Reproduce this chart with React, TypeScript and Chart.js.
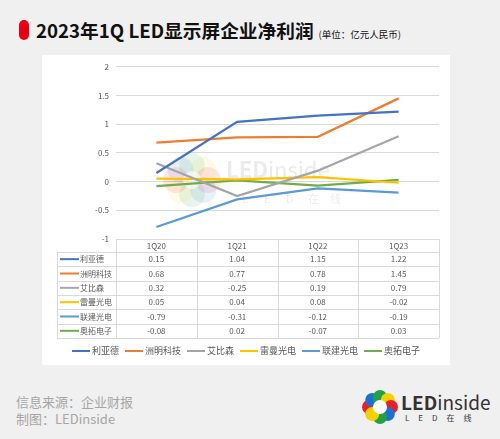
import { useEffect, useRef } from "react";
import { Chart, registerables } from "chart.js";

Chart.register(...registerables);

const quarters = ["1Q20", "1Q21", "1Q22", "1Q23"];
const companies = ["利亚德", "洲明科技", "艾比森", "雷曼光电", "联建光电", "奥拓电子"];
const leyard = [0.15, 1.04, 1.15, 1.22];
const unilumin = [0.68, 0.77, 0.78, 1.45];
const absen = [0.32, -0.25, 0.19, 0.79];
const lehman = [0.05, 0.04, 0.08, -0.02];
const liantronics = [-0.79, -0.31, -0.12, -0.19];
const aoto = [-0.08, 0.02, -0.07, 0.03];
const seriesValues = [leyard, unilumin, absen, lehman, liantronics, aoto];
const lineColors = ["#4472C4", "#ED7D31", "#A5A5A5", "#FFC000", "#5B9BD5", "#70AD47"];

const FONT = '"Noto Sans CJK SC", "Noto Sans", sans-serif';
const TEXT_GRAY = "#595959";
const GRID = "#d9d9d9";
const petalColors = ["#e8202a", "#1f6fd1", "#21a046", "#f5d000", "#e8202a", "#1f6fd1", "#21a046", "#f5d000"];

// faint logo watermark behind the lines
const watermarkPlugin = {
  id: "watermark",
  beforeDatasetsDraw(chart: Chart) {
    const { ctx } = chart;
    const cx = 150;
    const cy = 125;
    ctx.save();
    ctx.globalAlpha = 0.1;
    petalColors.forEach((c, i) => {
      const a = (Math.PI * 2 * i) / petalColors.length + Math.PI;
      ctx.fillStyle = c;
      ctx.beginPath();
      ctx.arc(cx + Math.cos(a) * 16, cy + Math.sin(a) * 14, 13, 0, Math.PI * 2);
      ctx.fill();
    });
    ctx.globalAlpha = 1;
    ctx.fillStyle = "rgba(255,255,255,0.6)";
    ctx.beginPath();
    ctx.arc(cx, cy, 9, 0, Math.PI * 2);
    ctx.fill();
    ctx.fillStyle = "rgba(120,120,120,0.15)";
    ctx.font = `bold 22px ${FONT}`;
    ctx.textBaseline = "alphabetic";
    ctx.textAlign = "left";
    ctx.fillText("LED", 184, 123);
    const w = ctx.measureText("LED").width;
    ctx.font = `22px ${FONT}`;
    ctx.fillText("inside", 184 + w, 123);
    ctx.font = `11px ${FONT}`;
    ["L", "E", "D", "在", "线"].forEach((ch, i) => ctx.fillText(ch, 200 + i * 22, 148));
    ctx.restore();
  },
};

// data table and legend under the plot
const tablePlugin = {
  id: "dataTable",
  afterDraw(chart: Chart) {
    const { ctx, chartArea } = chart;
    const datasets = chart.data.datasets;
    const colW = (chartArea.right - chartArea.left) / quarters.length;
    const labelLeft = 15;
    const headTop = chartArea.bottom;
    const headH = 13;
    const rowH = 14.33;
    const tableBottom = headTop + headH + rowH * datasets.length;

    ctx.save();
    ctx.strokeStyle = GRID;
    ctx.lineWidth = 1;
    ctx.beginPath();
    for (let i = 0; i <= datasets.length; i++) {
      const y = Math.round(headTop + headH + i * rowH) + 0.5;
      ctx.moveTo(labelLeft, y);
      ctx.lineTo(chartArea.right, y);
    }
    for (let j = 0; j <= quarters.length; j++) {
      const x = Math.round(chartArea.left + j * colW) + 0.5;
      ctx.moveTo(x, headTop);
      ctx.lineTo(x, tableBottom);
    }
    ctx.moveTo(labelLeft + 0.5, headTop + headH);
    ctx.lineTo(labelLeft + 0.5, tableBottom);
    ctx.stroke();

    ctx.fillStyle = TEXT_GRAY;
    ctx.font = `8px ${FONT}`;
    ctx.textBaseline = "middle";
    ctx.textAlign = "center";
    (chart.data.labels as string[]).forEach((q, j) => {
      ctx.fillText(q, chartArea.left + (j + 0.5) * colW, headTop + headH / 2 + 0.5);
    });
    datasets.forEach((ds, i) => {
      const yc = headTop + headH + (i + 0.5) * rowH;
      ctx.strokeStyle = ds.borderColor as string;
      ctx.lineWidth = 2;
      ctx.beginPath();
      ctx.moveTo(labelLeft + 3, yc);
      ctx.lineTo(labelLeft + 22, yc);
      ctx.stroke();
      ctx.textAlign = "left";
      ctx.fillStyle = TEXT_GRAY;
      ctx.fillText(ds.label as string, labelLeft + 23, yc);
      ctx.textAlign = "center";
      (ds.data as number[]).forEach((v, j) => {
        ctx.fillText(v.toFixed(2), chartArea.left + (j + 0.5) * colW, yc);
      });
    });

    // legend
    ctx.font = `9px ${FONT}`;
    const lineW = 18;
    const gap = 2;
    const spacing = 6;
    const widths = datasets.map((ds) => lineW + gap + ctx.measureText(ds.label as string).width);
    const total = widths.reduce((a, b) => a + b, 0) + spacing * (widths.length - 1);
    let x = chart.width / 2 - total / 2;
    const ly = 296;
    datasets.forEach((ds, i) => {
      ctx.strokeStyle = ds.borderColor as string;
      ctx.lineWidth = 2;
      ctx.beginPath();
      ctx.moveTo(x, ly);
      ctx.lineTo(x + lineW, ly);
      ctx.stroke();
      ctx.fillStyle = TEXT_GRAY;
      ctx.textAlign = "left";
      ctx.fillText(ds.label as string, x + lineW + gap, ly);
      x += widths[i] + spacing;
    });
    ctx.restore();
  },
};

const NetProfitChart = () => {
  const chartRef = useRef<HTMLCanvasElement>(null);
  const chartInstance = useRef<Chart | null>(null);

  useEffect(() => {
    if (!chartRef.current) return;
    if (chartInstance.current) chartInstance.current.destroy();

    chartInstance.current = new Chart(chartRef.current, {
      type: "line",
      data: {
        labels: quarters,
        datasets: companies.map((name, i) => ({
          label: name,
          data: seriesValues[i],
          borderColor: lineColors[i],
          backgroundColor: lineColors[i],
          borderWidth: 2.25,
          pointRadius: 0,
          tension: 0,
        })),
      },
      options: {
        responsive: false,
        animation: false,
        layout: { padding: { top: 10, bottom: 126, right: 11, left: 0 } },
        plugins: {
          legend: { display: false },
          tooltip: { enabled: false },
        },
        scales: {
          x: { type: "category", display: false, offset: true },
          y: {
            min: -1,
            max: 2,
            afterFit: (scale) => {
              scale.width = 74;
            },
            ticks: {
              stepSize: 0.5,
              padding: 7,
              color: TEXT_GRAY,
              font: { size: 8, family: FONT },
              callback: (value) => String(Number(value)),
            },
            grid: { color: GRID, drawTicks: false },
            border: { display: false },
          },
        },
      },
      plugins: [watermarkPlugin, tablePlugin],
    });

    return () => {
      if (chartInstance.current) {
        chartInstance.current.destroy();
        chartInstance.current = null;
      }
    };
  }, []);

  return (
    <canvas
      ref={chartRef}
      width={408}
      height={310}
      style={{ position: "absolute", left: 42, top: 55, width: 408, height: 310, background: "#fff" }}
    />
  );
};

const Logo = () => (
  <div style={{ position: "absolute", left: 362, top: 389, display: "flex", alignItems: "center" }}>
    <svg width="36" height="36" viewBox="-18 -18 36 36">
      {petalColors.map((c, i) => {
        const a = (Math.PI * 2 * i) / petalColors.length + Math.PI;
        return <circle key={i} cx={Math.cos(a) * 11} cy={Math.sin(a) * 10} r={7} fill={c} />;
      })}
      <circle cx={0} cy={0} r={7} fill="#fff" />
    </svg>
    <div style={{ marginLeft: 3, color: "#333", fontFamily: FONT, lineHeight: 1 }}>
      <div style={{ fontSize: 19 }}>
        <span style={{ fontWeight: 700 }}>LED</span>inside
      </div>
      <div style={{ fontSize: 8, letterSpacing: 9, marginTop: 3, paddingLeft: 4 }}>LED在线</div>
    </div>
  </div>
);

export default function App() {
  useEffect(() => {
    document.body.style.margin = "0";
  }, []);

  return (
    <div style={{ position: "relative", width: 500, height: 439, background: "#f0f0f0", fontFamily: FONT, overflow: "hidden" }}>
      <div style={{ position: "absolute", left: 19, top: 20, width: 10, height: 20, borderRadius: 5, background: "#e60012" }} />
      <div style={{ position: "absolute", left: 36, top: 16, whiteSpace: "nowrap", color: "#111" }}>
        <span style={{ fontSize: 18.7, fontWeight: 700 }}>2023年1Q LED显示屏企业净利润</span>
        <span style={{ fontSize: 9.5, marginLeft: 5 }}>(单位：亿元人民币)</span>
      </div>
      <NetProfitChart />
      <div style={{ position: "absolute", left: 16, top: 393, fontSize: 13, color: "#a6a6a6", lineHeight: "17px" }}>
        <div>信息来源：企业财报</div>
        <div>制图：LEDinside</div>
      </div>
      <Logo />
    </div>
  );
}
